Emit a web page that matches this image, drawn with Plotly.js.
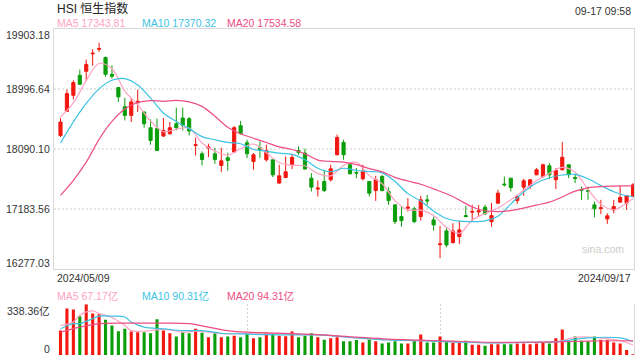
<!DOCTYPE html>
<html><head><meta charset="utf-8">
<script src="https://cdn.plot.ly/plotly-3.0.1.min.js"></script>
<style>html,body{margin:0;padding:0;background:#fff}#chart{width:640px;height:360px}</style>
</head><body><div id="chart"></div><script>
const chartTitle = 'HSI 恒生指数';
const stampText = '09-17 09:58';
const dateLabels = ['2024/05/09', '2024/09/17'];
const priceTicks = [19903.18, 18996.64, 18090.10, 17183.56, 16277.03];
const volTicks = [0, 338.36];
const volTickText = ['0', '338.36亿'];

const openP = [18295,18659,18901,19204,19264,19528,19597,19472,19219,19018,18730,18598,18790,18650,18412,18397,18286,18321,18472,18559,18548,18144,18018,18105,18018,17841,17958,18044,18442,18185,17902,18109,17927,17927,17575,17659,17852,18068,18029,17650,17484,17599,17625,18003,18189,17852,17735,17640,17599,17463,17675,17448,17246,17069,17196,17186,17069,17322,17019,16645,16853,16675,16766,17084,17136,17140,17211,16993,17272,17560,17650,17311,17514,17534,17700,17675,17837,17625,17776,17852,17659,17478,17463,17246,17192,17034,17170,17287,17272,17372];
const highP = [18559,18987,19128,19290,19441,19597,19694,19487,19355,19020,18862,18862,18987,18652,18538,18548,18559,18498,18715,18715,18574,18261,18053,18170,18105,18109,18033,18438,18513,18230,18029,18205,18155,17930,17852,17977,18014,18129,18094,17726,17614,17761,17852,18306,18230,17877,17802,17852,17600,17685,17700,17514,17248,17220,17348,17220,17382,17398,17069,16928,16893,16969,17008,17231,17246,17246,17246,17272,17473,17675,17652,17387,17640,17635,17802,17867,17877,17802,18195,17854,17715,17523,17523,17296,17322,17120,17322,17534,17389,17575];
const lowP = [18271,18650,18840,19060,19113,19346,19558,19180,19154,18801,18522,18498,18650,18412,18155,18060,18271,18306,18371,18371,18295,17993,17841,17968,17867,17741,17765,18033,18310,17953,17776,17953,17902,17666,17565,17650,17787,18003,17780,17448,17372,17438,17599,17995,17927,17710,17650,17614,17372,17307,17448,17246,16958,16918,17145,16969,17008,17246,16857,16439,16606,16666,16656,17060,16993,17069,17095,16918,17261,17523,17448,17261,17382,17484,17695,17659,17635,17484,17765,17650,17575,17322,17322,17060,17105,16958,17120,17281,17170,17363];
const closeP = [18498,18927,19093,19067,19366,19537,19608,19219,19189,18877,18598,18801,18810,18472,18220,18068,18371,18412,18412,18447,18362,18155,17932,18120,17932,17912,17917,18412,18321,18018,18003,18079,18068,17700,17685,17746,17962,18038,17787,17514,17499,17463,17791,18265,18003,17715,17726,17750,17423,17625,17463,17311,16993,17008,17211,16993,17322,17307,16943,16656,16641,16853,16868,17069,17145,17155,17110,17084,17423,17549,17508,17372,17610,17625,17776,17852,17700,17765,17965,17700,17644,17469,17454,17186,17201,17080,17220,17357,17387,17549];
const volume = [163,311,304,259,338,277,272,236,197,159,175,157,152,152,145,238,163,145,123,152,145,175,148,118,145,118,123,129,118,145,111,118,150,145,129,125,157,118,129,145,118,102,111,118,91,91,100,84,104,91,77,84,91,77,77,95,136,84,84,123,91,84,84,95,68,68,61,72,72,72,72,77,77,72,77,84,77,111,170,91,123,95,91,123,102,102,84,77,34,5];

const maIdx = [0,2,4,6,8,10,12,14,16,18,20,22,24,26,28,30,32,34,36,38,40,42,44,46,48,50,52,54,56,58,60,62,64,66,68,70,72,74,76,78,80,82,84,86,88,89];
const ma5 = [18575,18787,19124,19382,19302,18965,18760,18516,18353,18389,18407,18182,18062,18000,18094,18165,18033,17887,17844,17837,17720,17685,17841,17887,17688,17566,17310,17170,17167,17084,16905,16815,17016,17116,17199,17322,17466,17611,17722,17811,17740,17479,17257,17172,17270,17343.81];
const ma10 = [18180,18500,18778,18999,19128,19154,19057,18860,18634,18506,18398,18277,18230,18189,18170,18083,18059,18027,18009,17927,17799,17746,17799,17765,17750,17729,17599,17416,17304,17152,17040,16999,16993,17004,17075,17258,17440,17575,17656,17697,17706,17640,17537,17444,17384,17370.32];
const ma20 = [17390,17617,17891,18236,18506,18694,18792,18822,18810,18824,18801,18734,18586,18419,18321,18253,18189,18123,18083,18017,17923,17902,17891,17853,17794,17744,17662,17606,17558,17487,17413,17320,17214,17157,17145,17160,17198,17242,17287,17366,17454,17504,17523,17530,17533,17534.58];

const volMa5Idx = [0,2,3,5,6,8,10,11,13,15,17,19,21,23,26,28,31,34,38,40,46,51,56,61,67,72,77,80,83,85,87,89];
const volMa5 = [197,220,266,295,277,250,197,163,159,168,168,152,159,152,141,145,141,145,136,136,114,100,95,88,80,84,88,118,118,109,95,67.17];
const volMa10Idx = [0,2,3,5,6,8,10,11,13,16,19,22,25,28,32,37,40,46,51,56,61,67,72,77,82,87,89];
const volMa10 = [175,209,209,243,259,259,254,220,186,175,163,163,145,141,136,134,134,114,100,95,88,80,84,88,114,114,90.31];
const volMa20Idx = [0,3,6,10,13,16,20,23,26,29,32,37,40,46,51,56,61,67,72,77,82,87,89];
const volMa20 = [152,186,209,213,213,213,209,186,163,152,148,141,136,119,106,99,92,85,85,88,92,95,94.31];

const RED = '#f2170f', GREEN = '#0b9e0b';
const C5 = '#ffa3c2', C10 = '#3cc3e2', C20 = '#ee4d84';
const FONT = 'Liberation Sans, Arial, Noto Sans CJK SC, sans-serif';

const idx = openP.map((_, i) => i);
const volColors = openP.map((o, i) => closeP[i] >= o ? RED : GREEN);
const last = a => a[a.length - 1];

// plot area in pixels: left 54, right 634, top 29, bottom 355
const L = 54, R = 634, T = 29, B = 355;
const px = x => (x - L) / (R - L);
const py = y => (B - y) / (B - T);

const xr = [-1.01, 89.15];

const traces = [
  {type: 'candlestick', x: idx, open: openP, high: highP, low: lowP, close: closeP,
   xaxis: 'x', yaxis: 'y', whiskerwidth: 0,
   increasing: {line: {color: RED, width: 1}, fillcolor: RED},
   decreasing: {line: {color: GREEN, width: 1}, fillcolor: GREEN},
   hoverinfo: 'skip', showlegend: false},
  {type: 'scatter', mode: 'lines', x: maIdx, y: ma5, xaxis: 'x', yaxis: 'y', line: {color: C5, width: 1.2, shape: 'spline'}, showlegend: false, hoverinfo: 'skip'},
  {type: 'scatter', mode: 'lines', x: maIdx, y: ma10, xaxis: 'x', yaxis: 'y', line: {color: C10, width: 1.2, shape: 'spline'}, showlegend: false, hoverinfo: 'skip'},
  {type: 'scatter', mode: 'lines', x: maIdx, y: ma20, xaxis: 'x', yaxis: 'y', line: {color: C20, width: 1.2, shape: 'spline'}, showlegend: false, hoverinfo: 'skip'},
  {type: 'bar', x: idx, y: volume, xaxis: 'x2', yaxis: 'y2', width: 0.48, marker: {color: volColors, line: {width: 0}}, showlegend: false, hoverinfo: 'skip'},
  {type: 'scatter', mode: 'lines', x: volMa5Idx, y: volMa5, xaxis: 'x2', yaxis: 'y2', line: {color: C5, width: 1.2, shape: 'spline'}, showlegend: false, hoverinfo: 'skip'},
  {type: 'scatter', mode: 'lines', x: volMa10Idx, y: volMa10, xaxis: 'x2', yaxis: 'y2', line: {color: C10, width: 1.2, shape: 'spline'}, showlegend: false, hoverinfo: 'skip'},
  {type: 'scatter', mode: 'lines', x: volMa20Idx, y: volMa20, xaxis: 'x2', yaxis: 'y2', line: {color: C20, width: 1.2, shape: 'spline'}, showlegend: false, hoverinfo: 'skip'}
];

const GRID = '#e6e6e6', BORDER = '#d9d9d9';
const thirds = [xr[0] + (xr[1] - xr[0]) / 3, xr[0] + 2 * (xr[1] - xr[0]) / 3];

const ann = (text, x, y, opts) => Object.assign({text, x, y, xref: 'paper', yref: 'paper', showarrow: false,
  font: {family: FONT, size: 10.5, color: '#333'}, xanchor: 'left', yanchor: 'middle'}, opts || {});

const annotations = [
  ann(chartTitle, px(55), py(8.5), {font: {family: FONT, size: 12, color: '#222'}}),
  ann(stampText, px(633), py(10.5), {xanchor: 'right'}),
  ann('MA5 ' + last(ma5).toFixed(2), px(55), py(23.5), {font: {family: FONT, size: 10.5, color: C5}}),
  ann('MA10 ' + last(ma10).toFixed(2), px(140), py(23.5), {font: {family: FONT, size: 10.5, color: C10}}),
  ann('MA20 ' + last(ma20).toFixed(2), px(225), py(23.5), {font: {family: FONT, size: 10.5, color: C20}}),
  ann('MA5 ' + last(volMa5).toFixed(2) + '亿', px(55), py(296), {font: {family: FONT, size: 10.5, color: C5}}),
  ann('MA10 ' + last(volMa10).toFixed(2) + '亿', px(140), py(296), {font: {family: FONT, size: 10.5, color: C10}}),
  ann('MA20 ' + last(volMa20).toFixed(2) + '亿', px(225), py(296), {font: {family: FONT, size: 10.5, color: C20}}),
  ann(dateLabels[0], px(55), py(277.5)),
  ann(dateLabels[1], px(633), py(277.5), {xanchor: 'right'}),
  ann('sina.com', px(603), py(249), {xanchor: 'center', font: {family: FONT, size: 10.5, color: '#cccccc'}})
];
priceTicks.forEach((v, i) => {
  const shift = i === 0 ? -5.5 : (i === priceTicks.length - 1 ? 6 : 0);
  annotations.push({text: v.toFixed(2), x: px(52), y: v, xref: 'paper', yref: 'y', yshift: shift,
    xanchor: 'right', yanchor: 'middle', showarrow: false, font: {family: FONT, size: 10.5, color: '#333'}});
});
volTicks.forEach((v, i) => {
  const shift = i === 0 ? 6.5 : -7;
  annotations.push({text: volTickText[i], x: px(52), y: v, xref: 'paper', yref: 'y2', yshift: shift,
    xanchor: 'right', yanchor: 'middle', showarrow: false, font: {family: FONT, size: 10.5, color: '#333'}});
});

const layout = {
  width: 640, height: 360,
  margin: {l: L, r: 640 - R, t: T, b: 360 - B, pad: 0},
  paper_bgcolor: '#fff', plot_bgcolor: '#fff',
  boxgap: 0.3,
  showlegend: false,
  font: {family: FONT, size: 10.5, color: '#333'},
  xaxis: {domain: [0, 1], anchor: 'y', range: xr, rangeslider: {visible: false}, showgrid: false, zeroline: false,
    showticklabels: false, ticks: '', showline: true, mirror: true, linecolor: BORDER, linewidth: 1},
  yaxis: {domain: [py(269), 1], anchor: 'x', range: [priceTicks[priceTicks.length - 1], priceTicks[0]],
    tickmode: 'array', tickvals: priceTicks.slice(1, -1), showticklabels: false, ticks: '',
    showgrid: true, gridcolor: GRID, gridwidth: 1.5, griddash: '2px,2px', zeroline: false,
    showline: true, mirror: true, linecolor: BORDER, linewidth: 1},
  xaxis2: {domain: [0, 1], anchor: 'y2', matches: 'x', range: xr, showgrid: true, tickmode: 'array', tickvals: thirds,
    gridcolor: '#d4d4d4', gridwidth: 1, griddash: '2px,2px', zeroline: false, showticklabels: false, ticks: '', showline: false},
  yaxis2: {domain: [0, py(304.3)], anchor: 'x2', range: [volTicks[0], volTicks[1]], tickmode: 'array', tickvals: volTicks,
    showticklabels: false, ticks: '', showgrid: true, gridcolor: '#d4d4d4', gridwidth: 1.5, griddash: '2px,2px',
    zeroline: false, showline: true, side: 'right', linecolor: BORDER, linewidth: 1},
  annotations
};

Plotly.newPlot('chart', traces, layout, {staticPlot: true, displayModeBar: false});
</script></body></html>
